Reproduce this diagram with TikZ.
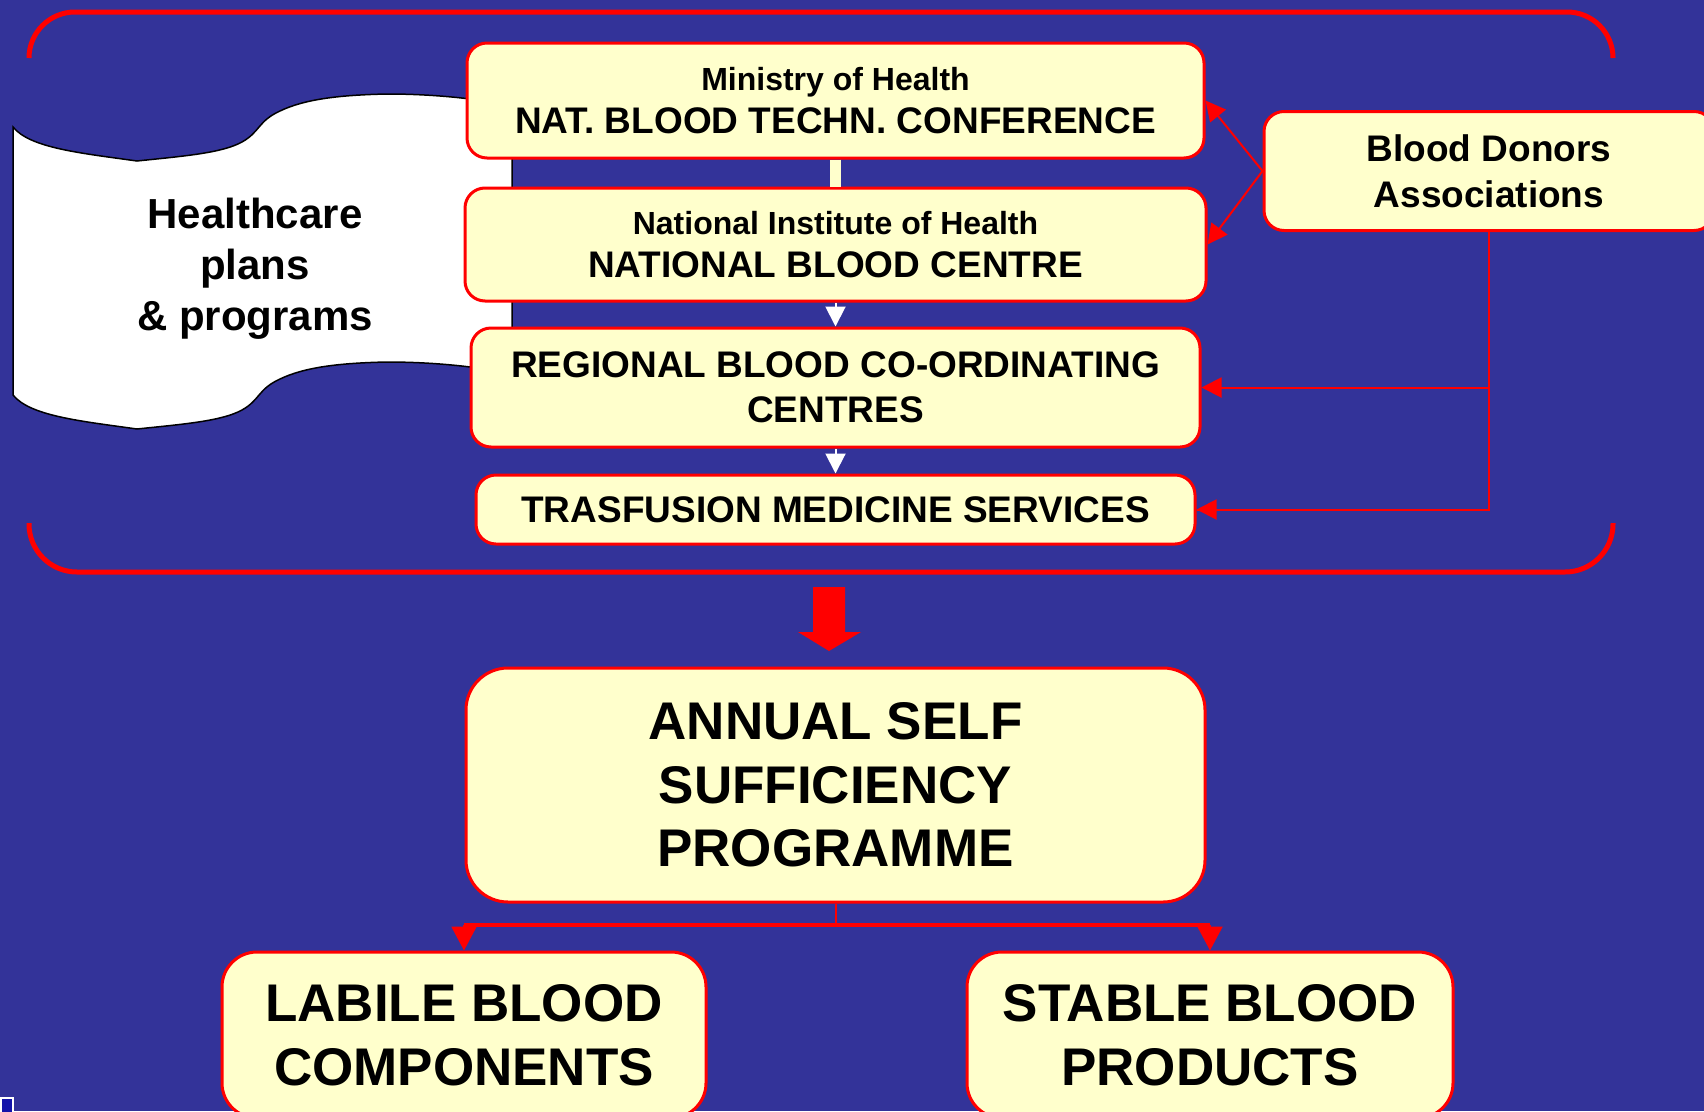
\documentclass[tikz,border=0pt]{standalone}
\usepackage{fontspec}
\setmainfont{Liberation Sans}
\usetikzlibrary{arrows.meta}
\definecolor{slideblue}{RGB}{51,51,153}
\definecolor{boxfill}{RGB}{255,255,204}
\definecolor{linkred}{RGB}{255,0,0}
\definecolor{iconblue}{RGB}{20,20,170}

\begin{document}
\begin{tikzpicture}[x=1pt,y=-1pt,
  box/.style={draw=linkred, fill=boxfill, line width=3pt, rounded corners=20pt,
    align=center, inner sep=0pt},
  bigbox/.style={box, rounded corners=42pt},
  bracketline/.style={draw=linkred, line width=5pt},
  redlink/.style={draw=linkred, line width=2pt, -{Triangle[width=20pt,length=20pt]}},
  whitelink/.style={draw=white, fill=white, line width=2pt, -{Triangle[width=20pt,length=20pt]}},
  splitlink/.style={draw=linkred, fill=linkred, line width=2pt, -{Triangle[width=25pt,length=24pt]}},
  scrollshape/.style={fill=white, draw=black, line width=1.5pt},
  midfont/.style={font=\bfseries\fontsize{37}{45}\selectfont},
  twofont/.style={font=\bfseries\fontsize{37}{43}\selectfont},
  bigfont/.style={font=\bfseries\fontsize{53}{63.5}\selectfont}
]
\useasboundingbox (0,0) rectangle (1704,1111);
\fill[slideblue] (0,0) rectangle (1704,1111);

% banner scroll behind the upper column
\path[scrollshape]
 (13,127) .. controls (30,148) and (80,153) .. (137,161)
 .. controls (185,156) and (222,153) .. (242,142)
 .. controls (260,132) and (258,121) .. (280,111)
 .. controls (305,99) and (340,95) .. (387,94)
 .. controls (440,94) and (485,100) .. (512,106)
 -- (512,374)
 .. controls (485,368) and (440,362) .. (387,362)
 .. controls (340,363) and (305,367) .. (280,379)
 .. controls (258,389) and (260,400) .. (242,410)
 .. controls (222,421) and (185,424) .. (137,429)
 .. controls (80,421) and (30,416) .. (13,395)
 -- cycle;
\node[font=\bfseries\fontsize{42}{51}\selectfont, align=center, inner sep=0pt] (plans)
  at (255,269) {Healthcare\\plans\\\& programs};

% brackets around the national system
\draw[bracketline, rounded corners=46pt] (29,58) -- (29,12) -- (1613,12) -- (1613,58);
\draw[bracketline, rounded corners=48pt] (29,523) -- (29,572) -- (1613,572) -- (1613,523);

% national / regional chain
\node[box, twofont, minimum width=737pt, minimum height=115pt] (moh) at (835.5,100.5)
  {{\fontsize{32}{43}\selectfont Ministry of Health}\\NAT. BLOOD TECHN. CONFERENCE};
\node[box, twofont, minimum width=741pt, minimum height=113pt] (nih) at (835.5,244.5)
  {{\fontsize{32}{43}\selectfont National Institute of Health}\\NATIONAL BLOOD CENTRE};
\node[box, midfont, minimum width=729pt, minimum height=119pt] (rbcc) at (835.5,387.5)
  {REGIONAL BLOOD CO-ORDINATING\\CENTRES};
\node[box, midfont, minimum width=719pt, minimum height=69pt] (tms) at (835.5,509.5)
  {TRASFUSION MEDICINE SERVICES};
\node[box, font=\bfseries\fontsize{37}{46}\selectfont, minimum width=450pt, minimum height=119pt]
  (donors) at (1489,171) {Blood Donors\\Associations};

% outcome boxes
\node[bigbox, bigfont, minimum width=739pt, minimum height=234pt] (asp) at (835.5,785)
  {ANNUAL SELF\\SUFFICIENCY\\PROGRAMME};
\node[box, bigfont, rounded corners=35pt, minimum width=484pt, minimum height=166pt]
  (labile) at (464,1035) {LABILE BLOOD\\COMPONENTS};
\node[box, bigfont, rounded corners=35pt, minimum width=486pt, minimum height=166pt]
  (stable) at (1210,1035) {STABLE BLOOD\\PRODUCTS};

% links in the chain
\draw[draw=boxfill, line width=11pt] (moh.south) -- (nih.north);
\draw[whitelink] (nih.south) -- (rbcc.north);
\draw[whitelink] (rbcc.south) -- (tms.north);

% donors' links
\draw[redlink] (donors.west) -- (moh.east);
\draw[redlink] (donors.west) -- (nih.east);
\draw[draw=linkred, line width=2pt] (donors.south) |- (tms.east);
\draw[redlink] (donors.south |- tms.east) -- (tms.east);
\draw[redlink] (donors.south |- rbcc.east) -- (rbcc.east);

% block arrow down to the programme
\fill[linkred] (813,587) -- (845,587) -- (845,632) -- (861,632) -- (829,651)
  -- (798,632) -- (813,632) -- cycle;

% split of the programme
\coordinate (split) at (835.5,925);
\draw[draw=linkred, line width=2pt] (asp.south) -- (split);
\draw[draw=linkred, line width=4pt] (labile.north |- split) -- (stable.north |- split);
\draw[splitlink] (labile.north |- split) -- (labile.north);
\draw[splitlink] (stable.north |- split) -- (stable.north);

% small corner icon
\draw[white, line width=2pt, fill=iconblue] (1,1098) rectangle (13,1113);
\end{tikzpicture}
\end{document}
